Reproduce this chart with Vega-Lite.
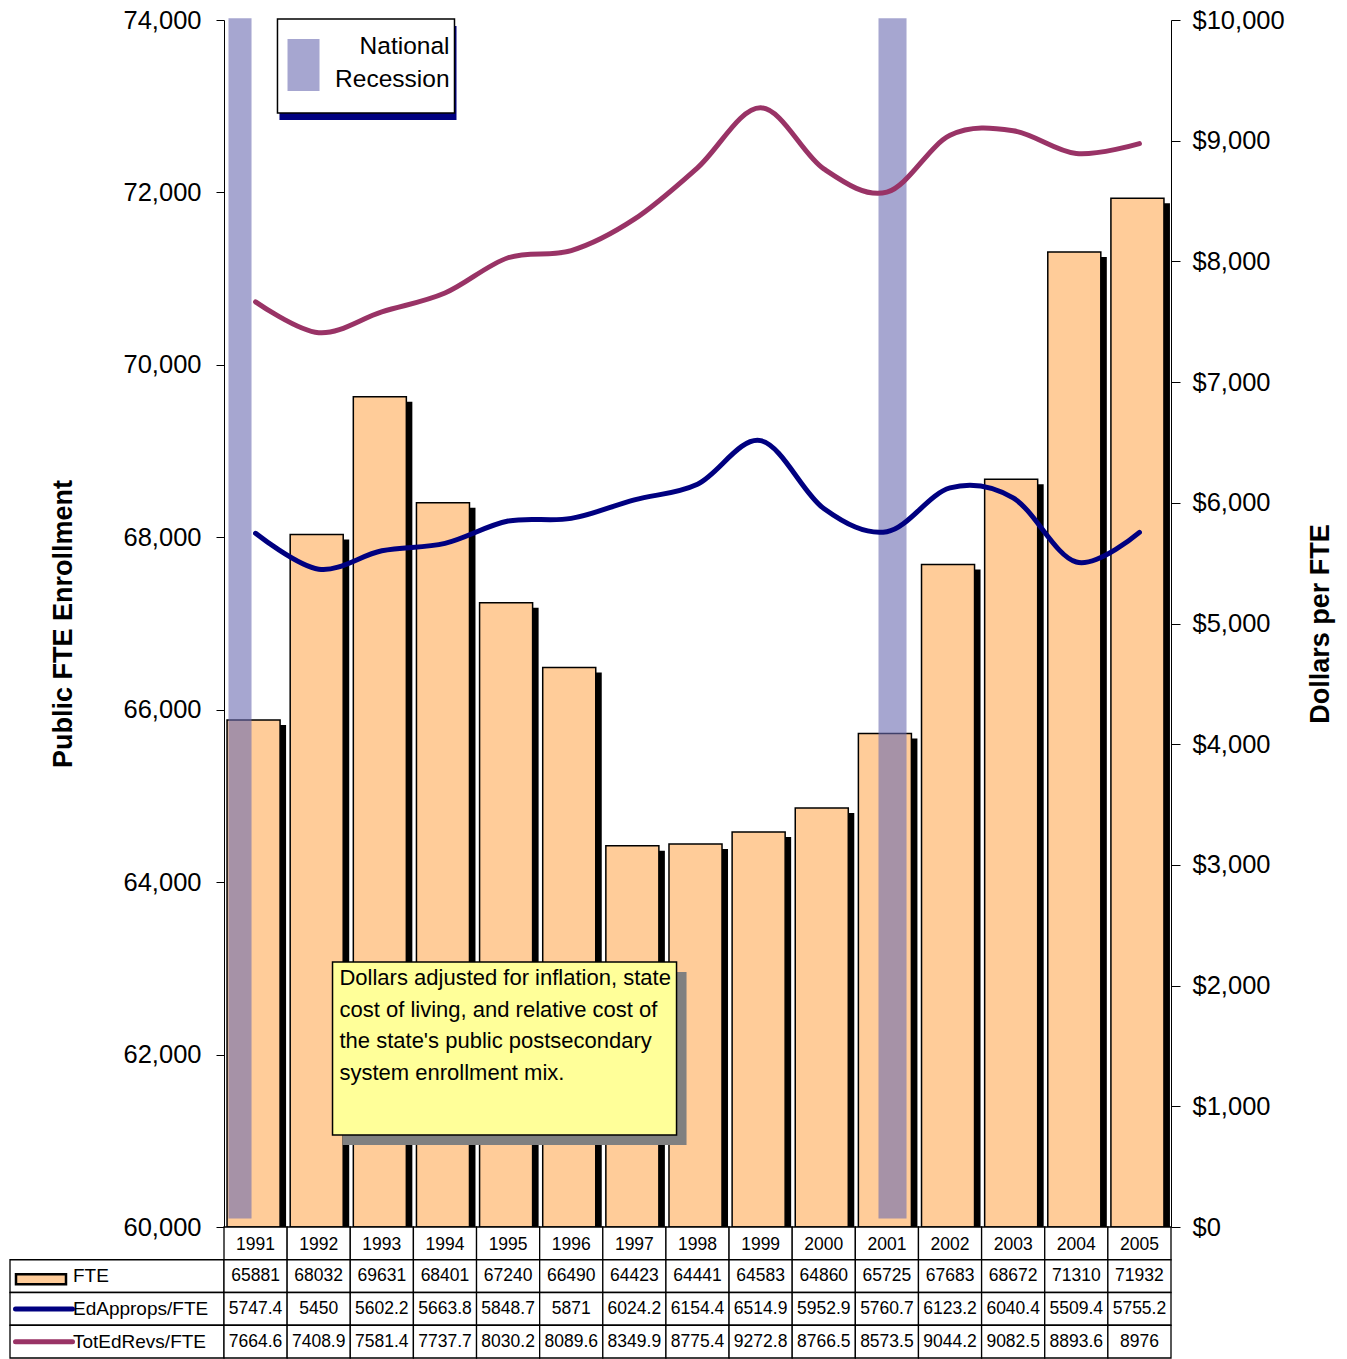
{
  "$schema": "https://vega.github.io/schema/vega-lite/v6.json",
  "background": "white",
  "padding": {"top": 8, "left": 5, "right": 5, "bottom": 0},
  "config": {"view": {"stroke": null}, "font": "Liberation Sans"},
  "datasets": {
    "main": [
      {"year": "1991", "FTE": 65881, "EdApprops": 5747.4, "TotEdRevs": 7664.6},
      {"year": "1992", "FTE": 68032, "EdApprops": 5450, "TotEdRevs": 7408.9},
      {"year": "1993", "FTE": 69631, "EdApprops": 5602.2, "TotEdRevs": 7581.4},
      {"year": "1994", "FTE": 68401, "EdApprops": 5663.8, "TotEdRevs": 7737.7},
      {"year": "1995", "FTE": 67240, "EdApprops": 5848.7, "TotEdRevs": 8030.2},
      {"year": "1996", "FTE": 66490, "EdApprops": 5871, "TotEdRevs": 8089.6},
      {"year": "1997", "FTE": 64423, "EdApprops": 6024.2, "TotEdRevs": 8349.9},
      {"year": "1998", "FTE": 64441, "EdApprops": 6154.4, "TotEdRevs": 8775.4},
      {"year": "1999", "FTE": 64583, "EdApprops": 6514.9, "TotEdRevs": 9272.8},
      {"year": "2000", "FTE": 64860, "EdApprops": 5952.9, "TotEdRevs": 8766.5},
      {"year": "2001", "FTE": 65725, "EdApprops": 5760.7, "TotEdRevs": 8573.5},
      {"year": "2002", "FTE": 67683, "EdApprops": 6123.2, "TotEdRevs": 9044.2},
      {"year": "2003", "FTE": 68672, "EdApprops": 6040.4, "TotEdRevs": 9082.5},
      {"year": "2004", "FTE": 71310, "EdApprops": 5509.4, "TotEdRevs": 8893.6},
      {"year": "2005", "FTE": 71932, "EdApprops": 5755.2, "TotEdRevs": 8976}
    ],
    "recession": [
      {"start": 1990.571, "end": 1990.936},
      {"start": 2000.867, "end": 2001.311}
    ],
    "annot": [
      {"kind": "legend", "x0": 1991.347, "x1": 1994.151, "y0": 74012, "y1": 72922, "tx": 1994.072, "ty": 73826, "label": "National\nRecession", "sx0": 1991.506, "sx1": 1992.013, "sy0": 73780, "sy1": 73177},
      {"kind": "note", "x0": 1992.219, "x1": 1997.668, "y0": 63074, "y1": 61067, "tx": 1992.329, "ty": 63004, "label": "Dollars adjusted for inflation, state\ncost of living, and relative cost of\nthe state's public postsecondary\nsystem enrollment mix."}
    ],
    "rows": [
      {"row": "FTE", "label": "FTE"},
      {"row": "EdApprops", "label": "EdApprops/FTE"},
      {"row": "TotEdRevs", "label": "TotEdRevs/FTE"}
    ]
  },
  "columns": 2,
  "spacing": 0,
  "bounds": "flush",
  "align": "each",
  "concat": [
    {
      "width": 214,
      "height": 1207,
      "data": {"values": []},
      "mark": "point"
    },
    {
      "width": 947,
      "height": 1207,
      "resolve": {"scale": {"x": "independent", "y": "independent"}},
      "layer": [
        {
          "data": {"name": "main"},
          "mark": {"type": "bar", "fill": "black", "xOffset": 4, "yOffset": 5, "clip": true},
          "encoding": {
            "x": {"field": "year", "type": "nominal", "scale": {"paddingInner": 0.16, "paddingOuter": 0.08}, "axis": null},
            "y": {"field": "FTE", "type": "quantitative", "scale": {"domain": [60000, 74000], "zero": false, "nice": false}, "axis": null},
            "y2": {"datum": 60000}
          }
        },
        {
          "data": {"name": "main"},
          "mark": {"type": "bar", "fill": "#FFCC99", "stroke": "black", "strokeWidth": 1.5, "xOffset": -2},
          "encoding": {
            "x": {"field": "year", "type": "nominal", "scale": {"paddingInner": 0.16, "paddingOuter": 0.08}, "axis": null},
            "y": {
              "field": "FTE", "type": "quantitative",
              "scale": {"domain": [60000, 74000], "zero": false, "nice": false},
              "axis": {
                "orient": "left", "values": [60000, 62000, 64000, 66000, 68000, 70000, 72000, 74000], "format": ",.0f",
                "title": "Public FTE Enrollment", "titleFontSize": 27, "titleFontWeight": "bold", "titlePadding": 46, "titleColor": "black",
                "labelFontSize": 25.5, "labelPadding": 15, "labelColor": "black", "tickSize": 8, "tickColor": "black", "domainColor": "black", "grid": false
              }
            },
            "y2": {"datum": 60000}
          }
        },
        {
          "data": {"name": "recession"},
          "mark": {"type": "rect", "fill": "#6b6bb0", "opacity": 0.6},
          "encoding": {
            "x": {"field": "start", "type": "quantitative", "scale": {"domain": [1990.5, 2005.5], "zero": false, "nice": false}, "axis": null},
            "x2": {"field": "end"},
            "y": {"datum": 74020, "type": "quantitative", "scale": {"domain": [60000, 74000], "zero": false, "nice": false}, "axis": null},
            "y2": {"datum": 60100}
          }
        },
        {
          "data": {"name": "main"},
          "transform": [{"fold": ["EdApprops", "TotEdRevs"], "as": ["series", "dollars"]}],
          "mark": {"type": "line", "interpolate": "cardinal", "strokeWidth": 5, "strokeCap": "round"},
          "encoding": {
            "x": {"field": "year", "type": "nominal", "axis": null},
            "y": {
              "field": "dollars", "type": "quantitative",
              "scale": {"domain": [0, 10000], "nice": false},
              "axis": {
                "orient": "right", "values": [0, 1000, 2000, 3000, 4000, 5000, 6000, 7000, 8000, 9000, 10000], "format": "$,.0f",
                "title": "Dollars per FTE", "titleAngle": 270, "titleFontSize": 27, "titleFontWeight": "bold", "titlePadding": 50, "titleColor": "black",
                "labelFontSize": 25.5, "labelPadding": 12, "labelColor": "black", "tickSize": 9, "tickColor": "black", "domainColor": "black", "grid": false
              }
            },
            "color": {"field": "series", "type": "nominal", "scale": {"domain": ["EdApprops", "TotEdRevs"], "range": ["#000080", "#993366"]}, "legend": null}
          }
        },
        {
          "data": {"name": "annot"},
          "encoding": {
            "x": {"field": "x0", "type": "quantitative", "scale": {"domain": [1990.5, 2005.5], "zero": false, "nice": false}, "axis": null},
            "y": {"field": "y0", "type": "quantitative", "scale": {"domain": [60000, 74000], "zero": false, "nice": false}, "axis": null}
          },
          "layer": [
            {
              "transform": [{"filter": "datum.kind === 'legend'"}],
              "mark": {"type": "rect", "fill": "#000080", "xOffset": 2, "x2Offset": 2, "yOffset": 7, "y2Offset": 7},
              "encoding": {"x2": {"field": "x1"}, "y2": {"field": "y1"}}
            },
            {
              "transform": [{"filter": "datum.kind === 'legend'"}],
              "mark": {"type": "rect", "fill": "white", "stroke": "black", "strokeWidth": 1.5},
              "encoding": {"x2": {"field": "x1"}, "y2": {"field": "y1"}}
            },
            {
              "transform": [{"filter": "datum.kind === 'legend'"}],
              "mark": {"type": "rect", "fill": "#6b6bb0", "opacity": 0.6},
              "encoding": {
                "x": {"field": "sx0", "type": "quantitative"},
                "x2": {"field": "sx1"},
                "y": {"field": "sy0", "type": "quantitative"},
                "y2": {"field": "sy1"}
              }
            },
            {
              "transform": [{"filter": "datum.kind === 'legend'"}],
              "mark": {"type": "text", "align": "right", "baseline": "top", "fontSize": 24.5, "lineHeight": 33, "lineBreak": "\n", "color": "black"},
              "encoding": {
                "x": {"field": "tx", "type": "quantitative"},
                "y": {"field": "ty", "type": "quantitative"},
                "text": {"field": "label"}
              }
            },
            {
              "transform": [{"filter": "datum.kind === 'note'"}],
              "mark": {"type": "rect", "fill": "#808080", "xOffset": 10, "x2Offset": 10, "yOffset": 10, "y2Offset": 10},
              "encoding": {"x2": {"field": "x1"}, "y2": {"field": "y1"}}
            },
            {
              "transform": [{"filter": "datum.kind === 'note'"}],
              "mark": {"type": "rect", "fill": "#FFFF99", "stroke": "black", "strokeWidth": 1.5},
              "encoding": {"x2": {"field": "x1"}, "y2": {"field": "y1"}}
            },
            {
              "transform": [{"filter": "datum.kind === 'note'"}],
              "mark": {"type": "text", "align": "left", "baseline": "top", "fontSize": 22, "lineHeight": 31.7, "lineBreak": "\n", "color": "black"},
              "encoding": {
                "x": {"field": "tx", "type": "quantitative"},
                "y": {"field": "ty", "type": "quantitative"},
                "text": {"field": "label"}
              }
            }
          ]
        }
      ]
    },
    {
      "width": 214,
      "height": 131,
      "data": {"name": "rows"},
      "encoding": {
        "y": {"field": "row", "type": "nominal", "scale": {"domain": ["Year", "FTE", "EdApprops", "TotEdRevs"], "paddingInner": 0, "paddingOuter": 0}, "axis": null}
      },
      "layer": [
        {"mark": {"type": "rect", "fill": "white", "stroke": "black", "strokeWidth": 1.3}},
        {
          "mark": {"type": "text", "align": "left", "baseline": "middle", "fontSize": 19, "color": "black"},
          "encoding": {"x": {"value": 63}, "text": {"field": "label"}}
        },
        {
          "transform": [{"filter": "datum.row === 'FTE'"}],
          "mark": {"type": "point", "shape": "M-1,-0.2H1V0.2H-1Z", "size": 2500, "filled": true, "fill": "#FFCC99", "stroke": "black", "strokeWidth": 2.5, "opacity": 1, "yOffset": 3},
          "encoding": {"x": {"value": 31}}
        },
        {
          "transform": [{"filter": "datum.row !== 'FTE'"}],
          "mark": {"type": "point", "shape": "M-1,0H1", "size": 3249, "filled": false, "strokeWidth": 5, "strokeCap": "round", "opacity": 1},
          "encoding": {
            "x": {"value": 34},
            "stroke": {"field": "row", "type": "nominal", "scale": {"domain": ["EdApprops", "TotEdRevs"], "range": ["#000080", "#993366"]}, "legend": null}
          }
        }
      ]
    },
    {
      "width": 947,
      "height": 131,
      "data": {"name": "main"},
      "encoding": {
        "x": {"field": "year", "type": "nominal", "scale": {"paddingInner": 0, "paddingOuter": 0}, "axis": null}
      },
      "layer": [
        {
          "mark": {"type": "rect", "fill": "white", "stroke": "black", "strokeWidth": 1.3},
          "encoding": {"y": {"datum": "Year", "type": "nominal", "scale": {"domain": ["Year", "FTE", "EdApprops", "TotEdRevs"], "paddingInner": 0, "paddingOuter": 0}, "axis": null}}
        },
        {
          "mark": {"type": "text", "baseline": "middle", "align": "center", "fontSize": 17.5, "color": "black", "yOffset": 2},
          "encoding": {"y": {"datum": "Year", "type": "nominal"}, "text": {"field": "year"}}
        },
        {
          "transform": [{"fold": ["FTE", "EdApprops", "TotEdRevs"], "as": ["series", "value"]}],
          "layer": [
            {
              "mark": {"type": "rect", "fill": "white", "stroke": "black", "strokeWidth": 1.3},
              "encoding": {"y": {"field": "series", "type": "nominal"}}
            },
            {
              "mark": {"type": "text", "baseline": "middle", "align": "center", "fontSize": 17.5, "color": "black"},
              "encoding": {"y": {"field": "series", "type": "nominal"}, "text": {"field": "value", "type": "nominal"}}
            }
          ]
        }
      ]
    }
  ]
}
